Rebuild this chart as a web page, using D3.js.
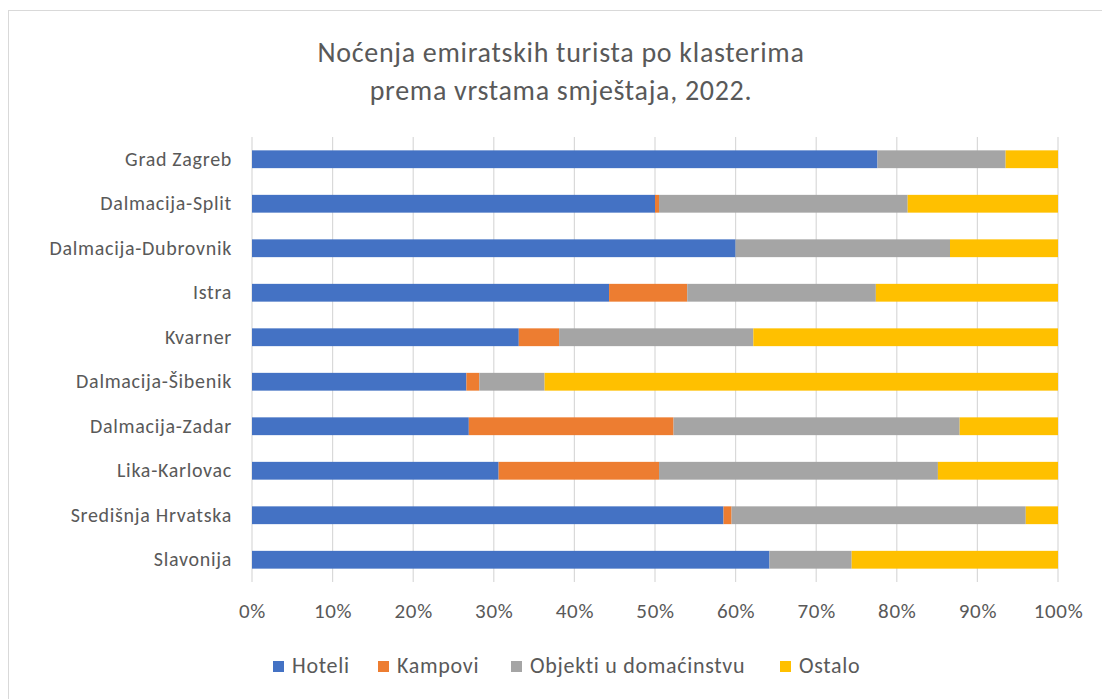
<!DOCTYPE html>
<html><head><meta charset="utf-8">
<script src="https://cdn.jsdelivr.net/npm/d3@7"></script>
<style>
body{margin:0;background:#fff;}
text{font-family:Carlito,Calibri,Lato,"Open Sans",sans-serif;fill:#595959;}
</style></head>
<body><svg id="c" width="1102" height="699"></svg>
<script>
const categories = ["Grad Zagreb","Dalmacija-Split","Dalmacija-Dubrovnik","Istra","Kvarner","Dalmacija-Šibenik","Dalmacija-Zadar","Lika-Karlovac","Središnja Hrvatska","Slavonija"];
const seriesNames = ["Hoteli","Kampovi","Objekti u domaćinstvu","Ostalo"];
const hoteli  = [77.6, 50.0, 60.0, 44.3, 33.1, 26.6, 26.9, 30.6, 58.5, 64.2];
const kampovi = [0.0, 0.5, 0.0, 9.7, 5.0, 1.6, 25.4, 19.9, 1.0, 0.0];
const objekti = [15.9, 30.85, 26.6, 23.4, 24.1, 8.1, 35.5, 34.6, 36.5, 10.2];
const ostalo  = [6.5, 18.65, 13.4, 22.6, 37.8, 63.7, 12.2, 14.9, 4.0, 25.6];
const tickValues = [0,0.1,0.2,0.3,0.4,0.5,0.6,0.7,0.8,0.9,1.0];
const colors = ["#4472C4","#ED7D31","#A5A5A5","#FFC000"];
const titleLines = ["Noćenja emiratskih turista po klasterima","prema vrstama smještaja, 2022."];

const svg = d3.select("#c");
svg.append("rect").attr("x",8.5).attr("y",10.5).attr("width",1100).attr("height",700)
  .attr("fill","#fff").attr("stroke","#D9D9D9");

const rows = categories.map((c,i)=>{
  const vals=[hoteli[i],kampovi[i],objekti[i],ostalo[i]];
  const tot=d3.sum(vals);
  const o={cat:c}; seriesNames.forEach((s,j)=>o[s]=vals[j]/tot); return o;
});
const stack = d3.stack().keys(seriesNames)(rows);

const x = d3.scaleLinear().domain([0,1]).range([252,1058]);
const y = d3.scaleBand().domain(categories).range([137,582]).paddingInner(0.6).paddingOuter(0.3);

// gridlines
svg.append("g").selectAll("line").data(tickValues).join("line")
  .attr("x1",d=>x(d)).attr("x2",d=>x(d)).attr("y1",137).attr("y2",582)
  .attr("stroke","#D9D9D9").attr("stroke-width",1.2);

svg.append("g").selectAll("g").data(stack).join("g")
  .attr("fill",(d,i)=>colors[i])
  .selectAll("rect").data(d=>d).join("rect")
  .attr("x",d=>x(d[0])).attr("width",d=>Math.max(0,x(d[1])-x(d[0])))
  .attr("y",d=>y(d.data.cat)).attr("height",y.bandwidth());

// y axis labels
const yAxis = d3.axisLeft(y).tickSize(0).tickPadding(20);
const gy = svg.append("g").attr("transform","translate(252,0)").call(yAxis);
gy.select(".domain").remove();
gy.selectAll("text").style("font-size","20px").style("letter-spacing","0.7px").attr("fill","#595959");

// x axis labels
const xAxis = d3.axisBottom(x).tickValues(tickValues).tickFormat(d3.format(".0%")).tickSize(0).tickPadding(13);
const gx = svg.append("g").attr("transform","translate(0,590)").call(xAxis);
gx.select(".domain").remove();
gx.selectAll("text").style("font-size","21px").style("letter-spacing","0.7px").attr("fill","#595959");

// title
svg.append("g").selectAll("text").data(titleLines).join("text")
  .attr("x",561).attr("y",(d,i)=>62+i*38).attr("text-anchor","middle")
  .style("font-size","28px").style("letter-spacing","0.7px").text(d=>d);

// legend
const legX=[273,378,511,780];
const lg = svg.append("g").selectAll("g").data(seriesNames).join("g")
  .attr("transform",(d,i)=>`translate(${legX[i]},661)`);
lg.append("rect").attr("x",0).attr("y",0).attr("width",11).attr("height",11).attr("fill",(d,i)=>colors[i]);
lg.append("text").attr("x",19).attr("y",12).style("font-size","22px").style("letter-spacing","0.7px").text(d=>d);
</script></body></html>
